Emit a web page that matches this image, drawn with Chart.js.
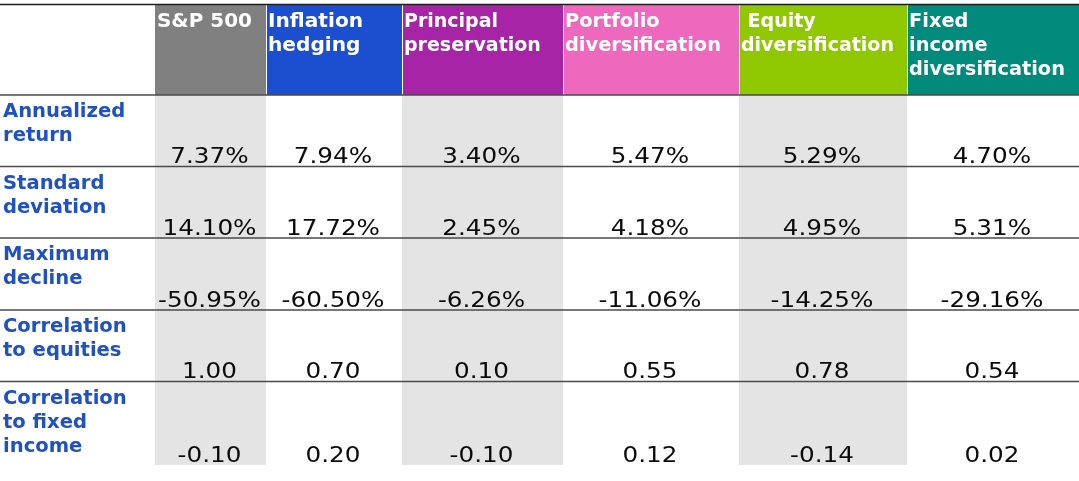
<!DOCTYPE html>
<html>
<head>
<meta charset="utf-8">
<script src="https://cdn.jsdelivr.net/npm/chart.js@4/dist/chart.umd.min.js"></script>
<style>
html,body{margin:0;padding:0;background:#ffffff;overflow:hidden}
#wrap{width:1079px;height:481px;position:relative}
canvas{display:block}
</style>
</head>
<body>
<div id="wrap"><canvas id="c" width="1079" height="481"></canvas></div>
<script>
// ---- data ----
const strategies = ["S&P 500", "Inflation hedging", "Principal preservation", "Portfolio diversification", " Equity diversification", "Fixed income diversification"];
const strategyHeaderLines = [["S&P 500"], ["Inflation", "hedging"], ["Principal", "preservation"], ["Portfolio", "diversification"], [" Equity", "diversification"], ["Fixed", "income", "diversification"]];
const metrics = ["Annualized return", "Standard deviation", "Maximum decline", "Correlation to equities", "Correlation to fixed income"];
const metricLabelLines = [["Annualized", "return"], ["Standard", "deviation"], ["Maximum", "decline"], ["Correlation", "to equities"], ["Correlation", "to fixed", "income"]];
const annualizedReturn = [7.37, 7.94, 3.40, 5.47, 5.29, 4.70];
const standardDeviation = [14.10, 17.72, 2.45, 4.18, 4.95, 5.31];
const maximumDecline = [-50.95, -60.50, -6.26, -11.06, -14.25, -29.16];
const correlationToEquities = [1.00, 0.70, 0.10, 0.55, 0.78, 0.54];
const correlationToFixedIncome = [-0.10, 0.20, -0.10, 0.12, -0.14, 0.02];
const metricIsPercent = [true, true, true, false, false];

// ---- layout / style (kept apart from the data) ----
const colEdges = [0, 155, 266, 402, 563, 739, 907, 1079];
const rowEdges = [5, 95, 166.5, 238, 310, 381.5, 465];
const headerColors = ["#808080", "#1c4fd0", "#a724a6", "#ee68bd", "#8fc800", "#008a7c"];
const headerStretch = [1.05, 1.06, 1, 1.02, 1, 1.02];
const bandColor = "#e4e4e4";
const labelColor = "#1f51c1";

const metricValues = [annualizedReturn, standardDeviation, maximumDecline, correlationToEquities, correlationToFixedIncome];

function fmt(v, pct) {
  return pct ? v.toFixed(2) + "%" : v.toFixed(2);
}

function stretchedText(ctx, txt, x, y, sx) {
  ctx.save();
  ctx.translate(x, y);
  ctx.scale(sx, 1);
  ctx.fillText(txt, 0, 0);
  ctx.restore();
}

const tablePlugin = {
  id: "tablePlugin",
  beforeDatasetsDraw(chart) {
    const ctx = chart.ctx;
    const xs = chart.scales.x, ys = chart.scales.y;
    const X = v => xs.getPixelForValue(v);
    const Y = v => ys.getPixelForValue(v);
    ctx.save();

    // header cells
    strategies.forEach((s, i) => {
      const x0 = X(colEdges[i + 1]) + (i === 0 ? 0 : 1);
      const x1 = X(colEdges[i + 2]);
      ctx.fillStyle = headerColors[i];
      ctx.fillRect(x0, Y(rowEdges[0]), x1 - x0, Y(rowEdges[1]) - Y(rowEdges[0]));
    });

    // alternating grey bands
    strategies.forEach((s, i) => {
      if (i % 2 !== 0) return;
      const x0 = X(colEdges[i + 1]);
      const x1 = X(colEdges[i + 2]);
      ctx.fillStyle = bandColor;
      ctx.fillRect(x0, Y(rowEdges[1]), x1 - x0, Y(rowEdges[rowEdges.length - 1]) - Y(rowEdges[1]));
    });

    // horizontal rules
    ctx.strokeStyle = "#1e1e1e";
    ctx.lineWidth = 1.5;
    ctx.beginPath();
    ctx.moveTo(X(0), Y(4.5));
    ctx.lineTo(X(1079), Y(4.5));
    ctx.stroke();
    ctx.strokeStyle = "#4a4a4a";
    ctx.lineWidth = 1.4;
    for (let r = 1; r < rowEdges.length - 1; r++) {
      ctx.beginPath();
      ctx.moveTo(X(0), Y(rowEdges[r]));
      ctx.lineTo(X(1079), Y(rowEdges[r]));
      ctx.stroke();
    }

    // header texts
    ctx.fillStyle = "#ffffff";
    ctx.textAlign = "left";
    ctx.textBaseline = "alphabetic";
    ctx.font = "bold 19px 'DejaVu Sans'";
    strategyHeaderLines.forEach((lines, i) => {
      lines.forEach((ln, k) => {
        stretchedText(ctx, ln, X(colEdges[i + 1]) + 2, Y(rowEdges[0] + 22) + k * 24, headerStretch[i]);
      });
    });

    // row labels
    ctx.fillStyle = labelColor;
    ctx.font = "bold 19px 'DejaVu Sans'";
    metricLabelLines.forEach((lines, r) => {
      lines.forEach((ln, k) => {
        stretchedText(ctx, ln, X(3), Y(rowEdges[r + 1] + 22) + k * 24, 1.03);
      });
    });

    // values
    ctx.fillStyle = "#0a0a0a";
    ctx.font = "22px 'DejaVu Sans'";
    ctx.textAlign = "center";
    metricValues.forEach((vals, r) => {
      vals.forEach((v, i) => {
        const cx = (X(colEdges[i + 1]) + X(colEdges[i + 2])) / 2 - 1;
        stretchedText(ctx, fmt(v, metricIsPercent[r]), cx, Y(rowEdges[r + 2] - 3.5), 1.12);
      });
    });
    ctx.restore();
  }
};

new Chart(document.getElementById("c"), {
  type: "scatter",
  data: { datasets: [{ data: [], showLine: false }] },
  options: {
    responsive: false,
    animation: false,
    events: [],
    layout: { padding: 0 },
    plugins: { legend: { display: false }, tooltip: { enabled: false }, title: { display: false } },
    scales: {
      x: { type: "linear", min: 0, max: 1079, display: false },
      y: { type: "linear", min: 0, max: 481, reverse: true, display: false }
    }
  },
  plugins: [tablePlugin]
});
</script>
</body>
</html>
